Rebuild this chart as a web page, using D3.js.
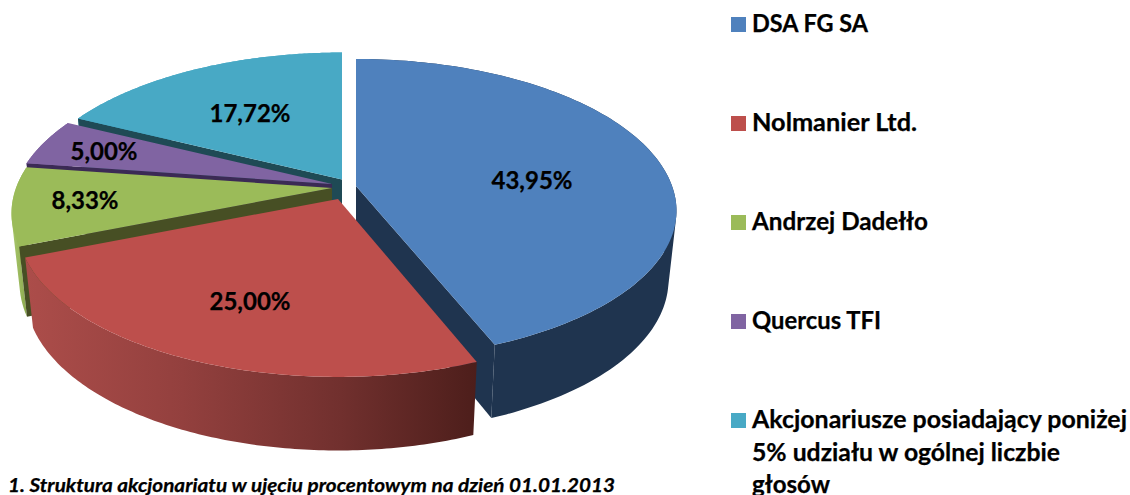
<!DOCTYPE html>
<html><head><meta charset="utf-8">
<script src="https://cdn.jsdelivr.net/npm/d3@7"></script>
<style>html,body{margin:0;padding:0;background:#fff;overflow:hidden}svg{display:block}
text{font-family:Lato,"Noto Sans",sans-serif;font-weight:700;fill:#000;stroke:#000;stroke-width:0.25px}</style>
</head><body><svg id="c" width="1130" height="495"></svg>
<script>
const categories = ["DSA FG SA","Nolmanier Ltd.","Andrzej Dadełło","Quercus TFI","Akcjonariusze posiadający poniżej 5% udziału w ogólnej liczbie głosów"];
const legendLines = [["DSA FG SA"],["Nolmanier Ltd."],["Andrzej Dadełło"],["Quercus TFI"],["Akcjonariusze posiadający poniżej","5% udziału w ogólnej liczbie","głosów"]];
const legendWidths = [[116],[165],[176],[129],[375,308,78]];
const values = [43.95,25.00,8.33,5.00,17.72];
const topColors = ["#4f81bd","#bd4f4c","#9bbb59","#8064a2","#48a9c5"];
const wallColors = ["#1f344f","url(#redWall)","url(#greenWall)","#8064a2","#48a9c5"];
const stripColors = ["#1f344f","#7a3331","#474f24","#3b2a55","#1f4a55"];
const apexX = [356,338,332,332,342];
const apexY = [186,199,188,184,179.5];
const frontScale = [0.975,1,1,1,1];
const labelX = [532,250,85,104,250];
const labelY = [180,301,200,151,113];
const legendY = [17,116,215,314,413];
const drawOrder = [4,0,3,2,1];
const caption = "1. Struktura akcjonariatu w ujęciu procentowym na dzień 01.01.2013";

const R=316, persp=0.167, squash=148.2, shrink=0.975;
const svg=d3.select("#c");
const fmt=d3.format(".2f");
const defs=svg.append("defs");
function grad(id,x1,x2,stops){
  const g=defs.append("linearGradient").attr("id",id).attr("gradientUnits","userSpaceOnUse")
    .attr("x1",x1).attr("x2",x2).attr("y1",0).attr("y2",0);
  stops.forEach(s=>g.append("stop").attr("offset",s[0]).attr("stop-color",s[1]));
}
grad("redWall",25,476,[[0,"#ac4d4a"],[0.35,"#93403e"],[0.7,"#71302e"],[1,"#4d1e1b"]]);
grad("greenWall",12,30,[[0,"#a8c76a"],[1,"#86a34a"]]);

const pie=d3.pie().sort(null).startAngle(0).endAngle(2*Math.PI)(values);
const top3=(th,i,r=1)=>{const X=Math.sin(th)*r,Y=-Math.cos(th)*r,k=1/(1-persp*Y);
  return [apexX[i]+X*k*R, apexY[i]+squash*Y*k*(Y>0?frontScale[i]:1)];};
const bot3=(th,i,r=1)=>{const p=top3(th,i,r),Y=-Math.cos(th)*r,d=68+10*Y;
  return [apexX[i]+(p[0]-apexX[i])*shrink, apexY[i]+(p[1]-apexY[i])*shrink+d];};
const line=d3.line().curve(d3.curveLinear);
const arcAngles=(a,b)=>d3.range(0,121).map(t=>a+(b-a)*t/120);
const oriented=q=>d3.polygonArea(q)<0?q.slice().reverse():q;

drawOrder.forEach(i=>{
  const s=pie[i], g=svg.append("g");
  const angs=arcAngles(s.startAngle,s.endAngle);
  const wall=d3.pairs(angs).map(([a,b])=>line(oriented([top3(a,i),top3(b,i),bot3(b,i),bot3(a,i)]))+"Z").join("");
  g.append("path").attr("d",wall).attr("fill",wallColors[i]);
  const mid=(s.startAngle+s.endAngle)/2, m=top3(mid,i,0.5);
  [s.startAngle,s.endAngle].forEach(a=>{
    const e=top3(a,i), o=top3(a,i,0);
    const ex=e[0]-o[0], ey=e[1]-o[1];
    const sideDown=ex;                                   // cross(edge,(0,1))
    const sideMid=ex*(m[1]-o[1])-ey*(m[0]-o[0]);         // cross(edge,mid)
    if(sideDown*sideMid<0)
      g.append("path").attr("d",line([o,e,bot3(a,i),bot3(a,i,0)])+"Z").attr("fill",stripColors[i]);
  });
  g.append("path").attr("d",line([top3(0,i,0),...angs.map(a=>top3(a,i))])+"Z").attr("fill",topColors[i]);
});

values.forEach((v,i)=>{
  svg.append("text").attr("x",labelX[i]).attr("y",labelY[i]).attr("dy","0.36em").attr("text-anchor","middle")
    .attr("font-size",24).text(fmt(v).replace(".",",")+"%");
});
categories.forEach((c,i)=>{
  svg.append("rect").attr("x",731).attr("y",legendY[i]).attr("width",15).attr("height",15).attr("fill",topColors[i]);
  legendLines[i].forEach((l,j)=>{
    svg.append("text").attr("x",752).attr("y",legendY[i]+15+j*32.5).attr("font-size",24)
      .attr("textLength",legendWidths[i][j]).attr("lengthAdjust","spacingAndGlyphs").text(l);
  });
});
svg.append("text").attr("x",8).attr("y",492).attr("font-size",19).attr("font-style","italic")
  .attr("textLength",607).attr("lengthAdjust","spacingAndGlyphs").text(caption);
</script></body></html>
